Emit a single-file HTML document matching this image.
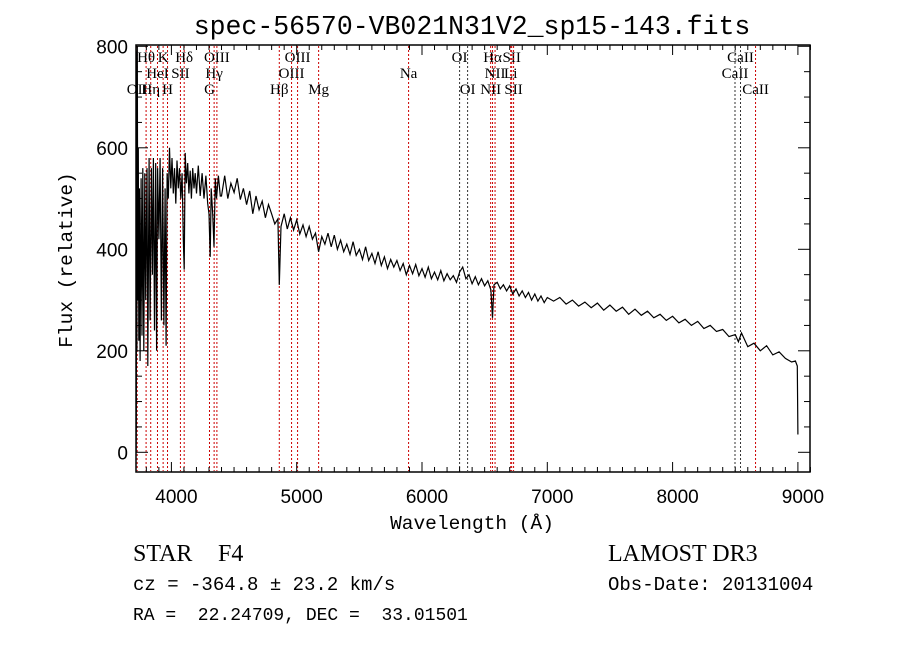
<!DOCTYPE html>
<html><head><meta charset="utf-8"><style>
body{margin:0;background:#fff;}
svg{display:block;font-family:"Liberation Serif",serif;}
.mono{font-family:"Liberation Mono",monospace;}
text{white-space:pre;}
</style></head><body>
<svg id="chart" width="900" height="649" viewBox="0 0 900 649">
<text x="472" y="34" text-anchor="middle" class="mono" font-size="26.5">spec-56570-VB021N31V2_sp15-143.fits</text>
<g id="lines"></g>
<path id="spec" fill="none" stroke="#000" stroke-width="1.2"></path>
<rect x="136" y="45" width="674" height="427" fill="none" stroke="#000" stroke-width="1.5"></rect>
<g id="ticks"></g>
<text x="472" y="529" text-anchor="middle" class="mono" font-size="19.5">Wavelength (Å)</text>
<text transform="translate(72,260) rotate(-90)" text-anchor="middle" class="mono" font-size="19.5">Flux (relative)</text>
<text x="133" y="561" font-size="24">STAR</text>
<text x="218" y="561" font-size="24">F4</text>
<text x="608" y="561" font-size="24">LAMOST DR3</text>
<text x="133" y="590" class="mono" font-size="19">cz = -364.8 ± 23.2 km/s</text>
<text x="608" y="590" class="mono" font-size="19">Obs-Date: 20131004</text>
<text x="133" y="620" class="mono" font-size="18" xml:space="preserve">RA =  22.24709, DEC =  33.01501</text>
</svg>
<script>
const wave=[3718,3720,3722,3725,3728,3732,3736,3740,3745,3750,3758,3765,3772,3780,3788,3795,3805,3812,3822,3830,3840,3848,3856,3865,3875,3882,3890,3900,3910,3920,3930,3940,3950,3958,3966,3975,3985,3995,4005,4015,4025,4035,4045,4055,4065,4075,4085,4095,4102,4110,4120,4130,4140,4150,4160,4170,4180,4190,4200,4215,4230,4245,4260,4275,4290,4300,4310,4318,4330,4340,4350,4360,4375,4390,
4400,4425,4450,4475,4500,4525,4550,4575,4600,4625,4650,4675,4700,4725,4750,4775,4800,4825,4850,4861,4875,4900,4925,4950,4975,5000,5025,5050,5075,5100,5125,5150,5175,5200,5225,5250,5275,5300,5325,5350,5375,5400,5425,5450,5475,5500,5525,5550,5575,5600,5625,5650,5675,5700,5725,5750,5775,5800,5825,5850,5875,5900,5925,5950,5975,6000,6025,6050,6075,6100,6125,6150,6175,6200,6225,6250,6275,6300,6325,6350,6375,6400,6425,6450,6475,6500,6525,6550,6563,6575,6600,6625,6650,6675,6700,6725,6750,6775,6800,6825,6850,6875,6900,6925,6950,6975,7000,
7050,7100,7150,7200,7250,7300,7350,7400,7450,7500,7550,7600,7650,7700,7750,7800,7850,7900,7950,8000,8050,8100,8150,8200,8250,8300,8350,8400,8450,8500,8525,8550,8600,8650,8700,8750,8800,8850,8900,8950,8980,8995,9000];
const flux=[0,60,790,200,800,300,600,220,520,180,540,230,560,200,550,300,560,170,580,260,560,350,580,240,570,200,560,420,580,260,560,250,520,210,550,500,600,520,580,510,560,490,575,520,560,500,550,420,360,590,530,570,510,555,500,560,520,550,510,565,505,550,500,545,490,470,385,520,470,405,540,500,545,505,
505,545,500,530,512,540,498,520,488,515,470,505,478,495,462,488,470,450,460,330,445,470,440,462,438,458,430,448,425,445,420,432,395,425,410,432,405,428,400,418,395,410,390,415,388,400,380,405,378,392,372,395,368,385,362,380,365,378,358,372,350,368,352,370,348,362,345,365,342,355,340,358,338,352,340,348,335,355,365,342,350,332,346,330,342,328,338,320,265,330,335,322,330,318,328,312,322,308,318,305,315,300,312,298,308,295,305,
298,305,292,300,288,296,285,294,280,290,278,286,272,282,270,278,265,272,260,268,255,262,250,258,244,250,238,242,228,232,218,235,208,215,200,210,192,198,185,178,180,170,35];
const lineNames=["OII","Hθ","Hη","HeI","K","H","SII","Hδ","G","Hγ","OIII","Hβ","OIII","OIII","Mg","Na","OI","OI","NII","Hα","NII","Li","SII","SII","CaII","CaII","CaII"];
const lineWaves=[3727,3798,3835,3889,3934,3969,4072,4102,4304,4341,4363,4861,4959,5007,5175,5893,6300,6364,6548,6563,6583,6708,6716,6731,8498,8542,8662];
const lineRows=[2,0,2,1,0,2,1,0,2,1,0,2,1,0,2,1,0,2,2,0,1,1,0,2,1,0,2];
const xTicks=[4000,5000,6000,7000,8000,9000];
const yTicks=[0,200,400,600,800];
const X=w=>171.4+(w-4000)*0.1253;
const Y=f=>452.3-f*0.5075;
const NS="http://www.w3.org/2000/svg";
function mk(tag,attrs,parent){const e=document.createElementNS(NS,tag);for(const k in attrs)e.setAttribute(k,attrs[k]);parent.appendChild(e);return e;}
let d="";wave.forEach((w,i)=>{d+=(i?"L":"M")+X(w).toFixed(1)+","+Y(flux[i]).toFixed(1);});
document.getElementById("spec").setAttribute("d",d);
const lg=document.getElementById("lines");
lineWaves.forEach((w,i)=>{
 const black=(lineNames[i]==="OI"||(lineNames[i]==="CaII"&&w<8600));
 const l=mk("line",{x1:X(w),x2:X(w),y1:46,y2:471,stroke:black?"#333":"#c00","stroke-width":1,"stroke-dasharray":"2,2"},lg);
 
 
 const t=mk("text",{x:X(w),y:62+lineRows[i]*16,"text-anchor":"middle","font-size":15},lg);
 t.textContent=lineNames[i];
 
 
});
const tg=document.getElementById("ticks");
for(let w=3800;w<=9100;w+=100){const maj=w%1000===0;const L=maj?10:5;
 mk("line",{x1:X(w),x2:X(w),y1:472,y2:472-L,stroke:"#000"},tg);
 mk("line",{x1:X(w),x2:X(w),y1:45,y2:45+L,stroke:"#000"},tg);}
for(let f=0;f<=800;f+=50){const maj=f%200===0;const L=maj?12:6;
 mk("line",{x1:136,x2:136+L,y1:Y(f),y2:Y(f),stroke:"#000"},tg);
 mk("line",{x1:810,x2:810-L,y1:Y(f),y2:Y(f),stroke:"#000"},tg);}
xTicks.forEach(w=>{const t=mk("text",{x:X(w)+5,y:503,"text-anchor":"middle","font-size":19,"font-family":"Liberation Sans, sans-serif"},tg);t.textContent=w;
 
 });
yTicks.forEach(f=>{const t=mk("text",{x:128,y:Y(f)+7,"text-anchor":"end","font-size":19,"font-family":"Liberation Sans, sans-serif"},tg);t.textContent=f;
 
 });
</script>
</body></html>
